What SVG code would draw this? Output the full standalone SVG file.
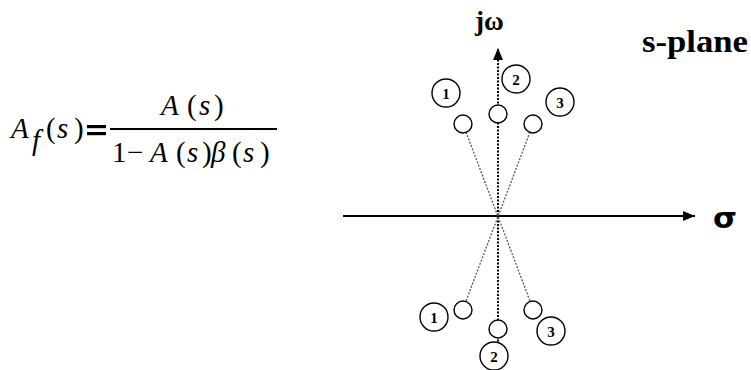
<svg xmlns="http://www.w3.org/2000/svg" width="751" height="370" viewBox="0 0 751 370">
<style>
text{font-family:'Liberation Serif','Times New Roman','DejaVu Serif',serif;fill:#000}
.f{font-style:italic;font-size:29px}
.u{font-size:29px}
.b{font-weight:bold}
.pole{fill:#fff;stroke:#000;stroke-width:1.4}
.lab{fill:#fff;stroke:#000;stroke-width:1.4}
.num{font-weight:bold;font-size:15px;text-anchor:middle}
.dot{stroke:#555;stroke-width:1.3;stroke-dasharray:2 1.5;fill:none}
</style>
<defs>
<marker id="ah" markerWidth="12" markerHeight="10" refX="12" refY="5" orient="auto" markerUnits="userSpaceOnUse">
<path d="M0,0 L12,5 L0,10 Z" fill="#000"/>
</marker>
</defs>
<g id="formula">
<text class="f" x="11" y="138">A</text>
<text class="f" x="32" y="150" font-size="18">f</text>
<text class="u" x="46" y="138">(</text>
<text class="f" x="57" y="138">s</text>
<text class="u" x="74" y="138">)</text>
<rect x="87" y="125" width="19" height="3.2" fill="#000"/>
<rect x="87" y="132" width="19" height="3.2" fill="#000"/>
<line x1="110" y1="129" x2="277" y2="129" stroke="#000" stroke-width="2"/>
<text class="f" x="161" y="115">A</text>
<text class="u" x="187" y="115">(</text>
<text class="f" x="199" y="115">s</text>
<text class="u" x="214" y="115">)</text>
<text class="u" x="112" y="162">1</text>
<text class="u" x="127" y="162">−</text>
<text class="f" x="150" y="162">A</text>
<text class="u" x="176" y="162">(</text>
<text class="f" x="187" y="162">s</text>
<text class="u" x="202" y="162">)</text>
<text class="f" x="211" y="162">β</text>
<text class="u" x="232" y="162">(</text>
<text class="f" x="243" y="162">s</text>
<text class="u" x="260" y="162">)</text>
</g>
<g id="connectors">
<line x1="343" y1="216" x2="695" y2="216" stroke="#000" stroke-width="2" marker-end="url(#ah)"/>
<line x1="498" y1="345" x2="498" y2="48" stroke="#000" stroke-width="2" stroke-dasharray="2 1.5" marker-end="url(#ah)"/>
<line class="dot" x1="466" y1="132" x2="530" y2="301"/>
<line class="dot" x1="530" y1="132" x2="466" y2="301"/>
</g>
<g id="labels">
<text class="b" x="475" y="30" font-size="27">jω</text>
<text class="b" x="642" y="52" font-size="31" textLength="106" lengthAdjust="spacingAndGlyphs">s-plane</text>
<text class="b" x="713" y="228" font-size="28" style="font-family:'DejaVu Sans',sans-serif" textLength="24" lengthAdjust="spacingAndGlyphs">σ</text>
</g>
<g id="pole-top-1"><circle class="pole" cx="463" cy="124" r="9"/></g>
<g id="pole-top-2"><circle class="pole" cx="498" cy="114" r="9"/></g>
<g id="pole-top-3"><circle class="pole" cx="533" cy="124" r="9"/></g>
<g id="pole-bot-1"><circle class="pole" cx="463" cy="310" r="9"/></g>
<g id="pole-bot-2"><circle class="pole" cx="498" cy="329" r="9"/></g>
<g id="pole-bot-3"><circle class="pole" cx="533" cy="310" r="9"/></g>
<g id="lab-top-1"><circle class="lab" cx="446" cy="93" r="14"/><text class="num" x="446" y="98.5">1</text></g>
<g id="lab-top-2"><circle class="lab" cx="516" cy="79" r="14"/><text class="num" x="516" y="84.5">2</text></g>
<g id="lab-top-3"><circle class="lab" cx="560" cy="102" r="14"/><text class="num" x="560" y="107.5">3</text></g>
<g id="lab-bot-1"><circle class="lab" cx="434" cy="317" r="14"/><text class="num" x="434" y="322.5">1</text></g>
<g id="lab-bot-2"><circle class="lab" cx="494" cy="356" r="14"/><text class="num" x="494" y="361.5">2</text></g>
<g id="lab-bot-3"><circle class="lab" cx="551" cy="331" r="14"/><text class="num" x="551" y="336.5">3</text></g>
</svg>
